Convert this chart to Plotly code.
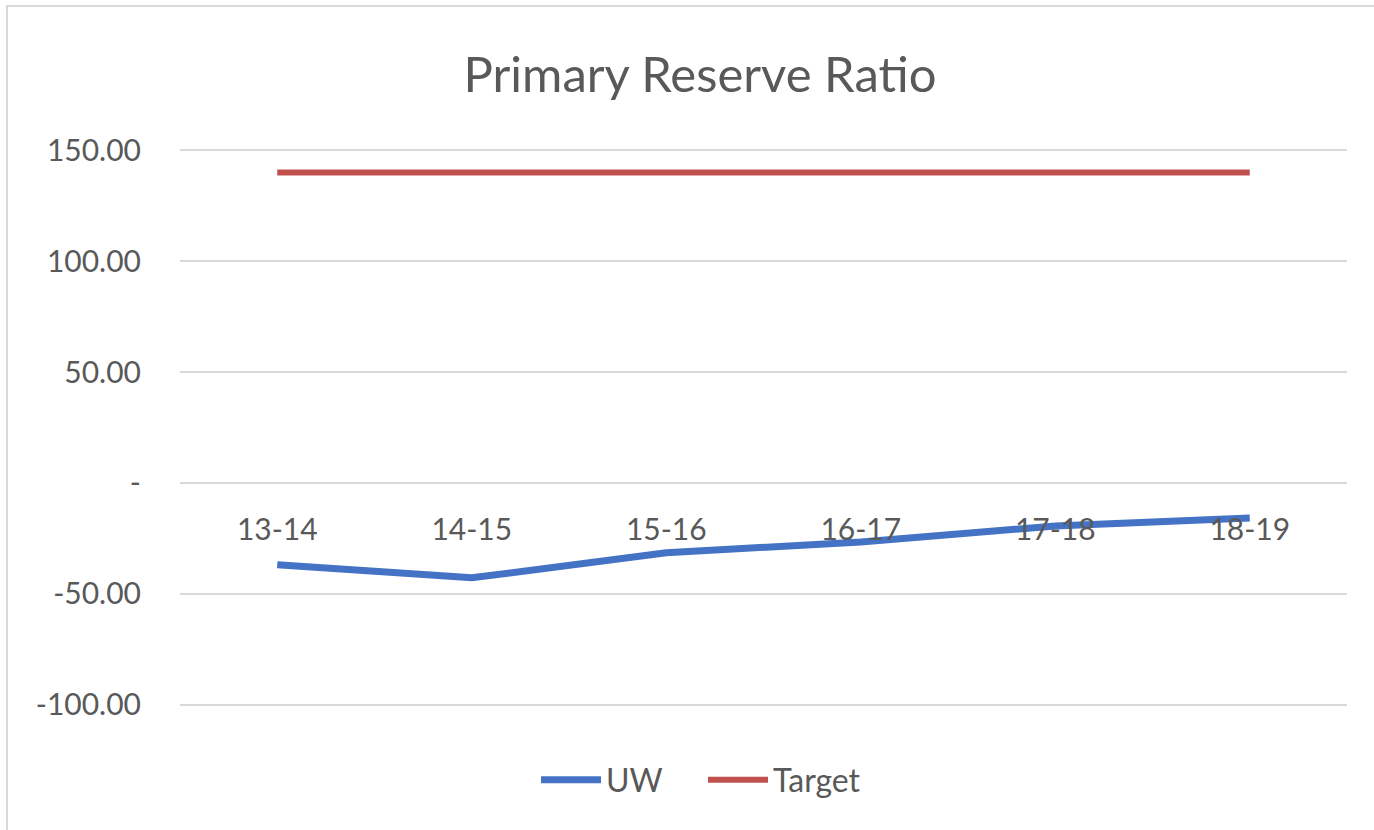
import plotly.graph_objects as go

categories = ["13-14", "14-15", "15-16", "16-17", "17-18", "18-19"]
uw_values = [-36.9, -42.8, -31.5, -26.6, -19.4, -15.8]
target_values = [140, 140, 140, 140, 140, 140]
y_tickvals = [150, 100, 50, 0, -50, -100]
y_ticktext = ["150.00", "100.00", "50.00", "-", "-50.00", "-100.00"]

W, H = 1374, 830
L, R = 180, 27
ymin, ymax = -101.5, 151.5
PPU = 111 / 50.0  # pixels per unit in reference
T = round(150 - (ymax - 150) * PPU)
B = round(H - (705 + (-100 - ymin) * PPU))

fig = go.Figure()
fig.add_trace(go.Scatter(x=categories, y=uw_values, name="UW", mode="lines",
                         line=dict(color="#4472C4", width=7)))
fig.add_trace(go.Scatter(x=categories, y=target_values, name="Target", mode="lines",
                         line=dict(color="#C0504D", width=6)))

FONT = "Lato, 'Open Sans', sans-serif"
tick_font = dict(family=FONT, size=30, color="#595959")

fig.update_layout(
    width=W, height=H,
    margin=dict(l=L, r=R, t=T, b=B, autoexpand=False),
    paper_bgcolor="white", plot_bgcolor="white",
    title=dict(text="Primary Reserve Ratio", x=700 / W, xref="container", xanchor="center",
               y=1 - 75 / H, yref="container", yanchor="middle",
               font=dict(family=FONT, size=49, color="#595959")),
    xaxis=dict(type="category", range=[-0.5, 5.5], showgrid=False, showline=False, ticks="",
               anchor="free", position=(0 - ymin) / (ymax - ymin),
               tickfont=tick_font, ticklabelstandoff=26, zeroline=False),
    yaxis=dict(range=[ymin, ymax], tickvals=y_tickvals, ticktext=y_ticktext,
               showgrid=True, gridcolor="#D9D9D9", gridwidth=2, zeroline=False,
               showline=False, ticks="", tickfont=tick_font, ticklabelstandoff=38),
    legend=dict(orientation="h", xref="container", x=703 / W, xanchor="center",
                yref="container", y=1 - 780 / H, yanchor="middle",
                font=dict(family=FONT, size=32, color="#595959"), itemwidth=60,
                entrywidth=92, entrywidthmode="pixels"),
    showlegend=True,
    shapes=[dict(type="rect", xref="paper", yref="paper",
                 x0=(7 - L) / (W - L - R), x1=(W + 10 - L) / (W - L - R),
                 y0=((H - B) - (H + 10)) / (H - T - B), y1=((H - B) - 6) / (H - T - B),
                 line=dict(color="#D9D9D9", width=2), layer="below")],
)

fig.write_html("out.html", config={"displayModeBar": False},
               post_script="document.body.style.margin='0';document.body.style.padding='0';")
